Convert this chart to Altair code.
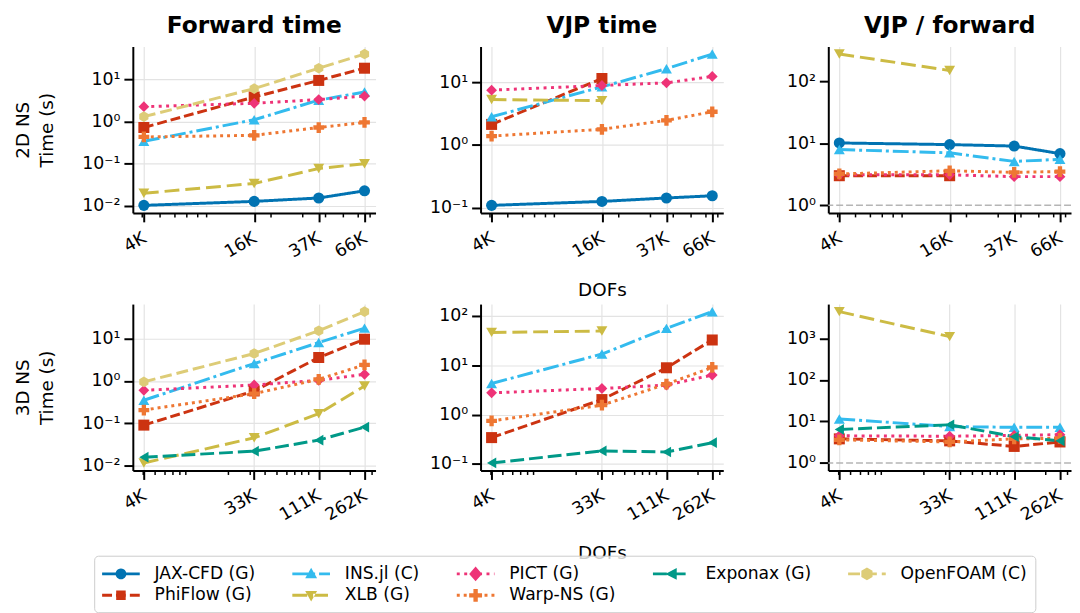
import math
import altair as alt
import numpy as np
import pandas as pd

# ---------------- data ----------------
SERIES = ["JAX-CFD (G)", "PhiFlow (G)", "INS.jl (C)", "XLB (G)", "PICT (G)",
          "Warp-NS (G)", "Exponax (G)", "OpenFOAM (C)"]
COLORS = ["#0173B2", "#CC3311", "#33BBEE", "#CCBB44", "#EE3377",
          "#EE7733", "#009988", "#DDCC77"]
# legend is filled column-major in 2 rows -> row-major order for 5 columns
LEGEND_ORDER = ["JAX-CFD (G)", "INS.jl (C)", "PICT (G)", "Exponax (G)", "OpenFOAM (C)",
                "PhiFlow (G)", "XLB (G)", "Warp-NS (G)"]

COL_TITLES = ["Forward time", "VJP time", "VJP / forward"]
ROW_TITLES = [["2D NS", "Time (s)"], ["3D NS", "Time (s)"]]
X_TITLE = "DOFs"
REF_LEVEL = [1.0]

DOFS_2D = [4096, 16384, 36864, 65536]
DOFS_3D = [4096, 32768, 110592, 262144]

FWD_2D = {
    "JAX-CFD (G)": [0.0103, 0.0128, 0.0154, 0.0228],
    "PhiFlow (G)": [0.72, 3.8, 9.4, 18.3],
    "INS.jl (C)": [0.34, 1.1, 3.2, 5.0],
    "XLB (G)": [0.020, 0.034, 0.077, 0.10],
    "PICT (G)": [2.24, 2.7, 3.3, 4.0],
    "Warp-NS (G)": [0.43, 0.47, 0.72, 0.95],
    "OpenFOAM (C)": [1.3, 6.0, 18.3, 39.6],
}
VJP_2D = {
    "JAX-CFD (G)": [0.109, 0.126, 0.143, 0.155],
    "PhiFlow (G)": [2.13, 11.5, None, None],
    "INS.jl (C)": [2.82, 8.45, 16.5, 28.2],
    "XLB (G)": [5.3, 5.1, None, None],
    "PICT (G)": [7.5, 8.9, 9.8, 12.4],
    "Warp-NS (G)": [1.39, 1.78, 2.47, 3.39],
}
RATIO_2D = {
    "JAX-CFD (G)": [10.1, 9.5, 9.0, 6.8],
    "PhiFlow (G)": [3.0, 3.0, None, None],
    "INS.jl (C)": [7.9, 7.0, 5.1, 5.5],
    "XLB (G)": [272, 148, None, None],
    "PICT (G)": [3.1, 3.1, 2.9, 2.9],
    "Warp-NS (G)": [3.2, 3.6, 3.4, 3.5],
}
FWD_3D = {
    "PhiFlow (G)": [0.091, 0.58, 3.56, 9.6],
    "INS.jl (C)": [0.35, 2.56, 8.0, 17.5],
    "XLB (G)": [0.0117, 0.0457, 0.169, 0.76],
    "PICT (G)": [0.60, 0.80, 1.03, 1.43],
    "Warp-NS (G)": [0.206, 0.50, 1.09, 2.39],
    "Exponax (G)": [0.016, 0.0221, 0.0403, 0.0817],
    "OpenFOAM (C)": [0.95, 4.42, 15.2, 42.8],
}
VJP_3D = {
    "PhiFlow (G)": [0.342, 2.01, 8.85, 32.3],
    "INS.jl (C)": [4.25, 16.8, 55.5, 121],
    "XLB (G)": [46, 49, None, None],
    "PICT (G)": [2.75, 3.37, 3.95, 6.3],
    "Warp-NS (G)": [0.745, 1.55, 4.14, 8.98],
    "Exponax (G)": [0.105, 0.184, 0.175, 0.27],
}
RATIO_3D = {
    "PhiFlow (G)": [3.8, 3.4, 2.5, 3.2],
    "INS.jl (C)": [11.5, 7.5, 7.2, 7.2],
    "XLB (G)": [4400, 1100, None, None],
    "PICT (G)": [4.5, 4.4, 4.6, 4.8],
    "Warp-NS (G)": [3.6, 3.2, 3.8, 3.9],
    "Exponax (G)": [6.4, 8.3, 4.3, 3.4],
}

# ---------------- styles ----------------
DASHES = [[1, 0], [10, 4], [16, 4, 3, 4], [15, 6], [3, 4.5], [3, 4], [14, 5], [12, 5]]
HEX = "M0,-1L0.866,-0.5L0.866,0.5L0,1L-0.866,0.5L-0.866,-0.5Z"
SHAPES = ["circle", "square", "triangle-up", "triangle-down", "diamond", "cross",
          "triangle-left", HEX]
MARKER_SIZES = [125, 115, 140, 140, 185, 170, 140, 160]
FONT = "DejaVu Sans"
PANEL_W, PANEL_H = 245, 168


def long_df(dofs, table):
    rows = []
    for s, vals in table.items():
        for d, v in zip(dofs, vals):
            if v is not None:
                rows.append({"series": s, "dofs": d, "value": v})
    return pd.DataFrame(rows)


def log_domain(values, include=()):
    arr = np.log10(np.array(list(values) + list(include), dtype=float))
    lo, hi = arr.min(), arr.max()
    m = 0.05 * (hi - lo)
    return [float(10 ** (lo - m)), float(10 ** (hi + m))]


def minor_ticks(dom):
    out = []
    for e in range(2, 7):
        for k in range(2, 10):
            v = k * 10 ** e
            if dom[0] <= v <= dom[1]:
                out.append(v)
    return out


SUP = ("'10' + replace(replace(replace(replace(replace(replace(''+round(log(datum.value)/LN10),"
       "'-','\u207b'),'0','\u2070'),'1','\u00b9'),'2','\u00b2'),'3','\u00b3'),'4','\u2074')")

color_scale = alt.Scale(domain=SERIES, range=COLORS)
dash_scale = alt.Scale(domain=SERIES, range=DASHES)
shape_scale = alt.Scale(domain=SERIES, range=SHAPES)
size_scale = alt.Scale(domain=SERIES, range=MARKER_SIZES)


# ---------- legend symbols: line segment (with dash pattern) + marker ----------
S = 10.0  # px per path unit for symbolSize 400


def _poly(pts):
    return "M" + "L".join(f"{px / S:.3f},{py / S:.3f}" for px, py in pts) + "Z"


def legend_path(dash, marker):
    x0, x1, hw = -10.0, 28.0, 1.5
    parts = []
    if sum(dash[1::2]) == 0:
        parts.append(_poly([(x0, -hw), (x1, -hw), (x1, hw), (x0, hw)]))
    else:
        xx, i = x0, 0
        while xx < x1:
            on, off = dash[i % len(dash)], dash[(i + 1) % len(dash)]
            e = min(xx + on, x1)
            parts.append(_poly([(xx, -hw), (e, -hw), (e, hw), (xx, hw)]))
            xx = e + off
            i += 2
    cx = 9.0
    if marker == "circle":
        r = 5.5
        pts = [(cx + r * math.cos(a * math.pi / 12), r * math.sin(a * math.pi / 12)) for a in range(24)]
    elif marker == "square":
        h = 4.8
        pts = [(cx - h, -h), (cx + h, -h), (cx + h, h), (cx - h, h)]
    elif marker == "triangle-up":
        pts = [(cx, -6.2), (cx + 6, 4.5), (cx - 6, 4.5)]
    elif marker == "triangle-down":
        pts = [(cx, 6.2), (cx + 6, -4.5), (cx - 6, -4.5)]
    elif marker == "diamond":
        pts = [(cx, -7.5), (cx + 6.5, 0), (cx, 7.5), (cx - 6.5, 0)]
    elif marker == "cross":
        a, t = 6.5, 2.2
        pts = [(cx - t, -a), (cx + t, -a), (cx + t, -t), (cx + a, -t), (cx + a, t), (cx + t, t),
               (cx + t, a), (cx - t, a), (cx - t, t), (cx - a, t), (cx - a, -t), (cx - t, -t)]
    elif marker == "triangle-left":
        pts = [(cx - 6.5, 0), (cx + 5, -6), (cx + 5, 6)]
    else:  # hexagon
        r = 6.5
        pts = [(cx + r * math.sin(k * math.pi / 3), -r * math.cos(k * math.pi / 3)) for k in range(6)]
    parts.append(_poly(pts))
    return "".join(parts)


LEG_PATHS = {s: legend_path(DASHES[i], SHAPES[i] if i < 7 else "hex") for i, s in enumerate(SERIES)}
leg_colors = [COLORS[SERIES.index(s)] for s in LEGEND_ORDER]
leg_shapes = [LEG_PATHS[s] for s in LEGEND_ORDER]

# legend is attached to the bottom-middle panel; offsets relative to that panel
legend_def = alt.Legend(
    title=None, orient="none", legendX=-390, legendY=254, columns=5, direction="horizontal",
    values=LEGEND_ORDER,
    symbolSize=400, symbolStrokeWidth=0, symbolOpacity=1,
    labelFont=FONT, labelFontSize=17.3, labelColor="black", labelOffset=33, labelLimit=400,
    columnPadding=37, rowPadding=3, padding=8,
    strokeColor="#cccccc", fillColor="rgba(255,255,255,0.8)", cornerRadius=4,
)


def legend_layer():
    return alt.Chart(pd.DataFrame({"series": LEGEND_ORDER})).mark_point(
        filled=True, opacity=0
    ).encode(
        color=alt.Color("series:N", scale=alt.Scale(domain=LEGEND_ORDER, range=leg_colors),
                        legend=legend_def),
        shape=alt.Shape("series:N", scale=alt.Scale(domain=LEGEND_ORDER, range=leg_shapes),
                        legend=legend_def),
    )


def panel(dofs, table, col, ytitle, show_title, with_legend=False):
    df = long_df(dofs, table)
    ref = col == 2
    xdom = log_domain(dofs)
    ydom = log_domain(df["value"].tolist(), REF_LEVEL if ref else [])
    lo, hi = np.log10(ydom)
    yvals = [float(10.0 ** k) for k in range(math.ceil(lo), math.floor(hi) + 1)]
    test = f"indexof({list(dofs)}, datum.value) >= 0"
    xaxis = alt.Axis(
        values=list(dofs) + minor_ticks(xdom),
        labelExpr=f"{test} ? round(datum.value / 1000) + 'K' : ''",
        labelAngle=-30, labelAlign="right", labelBaseline="top", labelPadding=7,
        labelOffset=-4, labelOverlap=False, labelFlush=False,
        tickSize={"condition": {"test": test, "value": 9}, "value": 4},
        tickWidth={"condition": {"test": test, "value": 2}, "value": 1.5},
        gridOpacity={"condition": {"test": test, "value": 1}, "value": 0},
        title=X_TITLE if col == 1 else None, titlePadding=20,
    )
    yaxis = alt.Axis(
        values=yvals, labelExpr=SUP, tickSize=9, labelPadding=4,
        labelOverlap=False, labelFlush=False,
        title=ytitle if col == 0 else None, titlePadding=26, titleLineHeight=24,
    )
    xscale = alt.Scale(type="log", domain=xdom, nice=False)
    yscale = alt.Scale(type="log", domain=ydom, nice=False)
    x = alt.X("dofs:Q", scale=xscale, axis=xaxis)
    y = alt.Y("value:Q", scale=yscale, axis=yaxis)
    base = alt.Chart(df)
    lines = base.mark_line(strokeWidth=3, strokeJoin="round").encode(
        x=x, y=y,
        color=alt.Color("series:N", scale=color_scale, legend=None),
        strokeDash=alt.StrokeDash("series:N", scale=dash_scale, legend=None),
    )
    pts = base.mark_point(filled=True, opacity=1).encode(
        x=x, y=y,
        color=alt.Color("series:N", scale=color_scale, legend=None),
        shape=alt.Shape("series:N", scale=shape_scale, legend=None),
        size=alt.Size("series:N", scale=size_scale, legend=None),
    )
    layers = []
    if ref:
        layers.append(
            alt.Chart(pd.DataFrame({"ref": REF_LEVEL})).mark_rule(
                color="#b5b5b5", strokeWidth=1.5, strokeDash=[7, 3]
            ).encode(y=alt.YDatum(REF_LEVEL[0], scale=yscale))
        )
    layers += [lines, pts]
    if with_legend:
        layers.append(legend_layer())
    ch = alt.layer(*layers).properties(width=PANEL_W, height=PANEL_H)
    if with_legend:
        ch = ch.resolve_scale(color="independent", shape="independent")
    if show_title:
        ch = ch.properties(title=alt.TitleParams(
            COL_TITLES[col], fontSize=23.5, fontWeight="bold", font=FONT,
            color="black", offset=9))
    return ch


rows = [
    (DOFS_2D, [FWD_2D, VJP_2D, RATIO_2D], ROW_TITLES[0], True),
    (DOFS_3D, [FWD_3D, VJP_3D, RATIO_3D], ROW_TITLES[1], False),
]
panels = []
for r, (dofs, tables, ytitle, show_title) in enumerate(rows):
    for c, t in enumerate(tables):
        panels.append(panel(dofs, t, c, ytitle, show_title, with_legend=(r == 1 and c == 1)))

chart = alt.concat(
    *panels, columns=3, spacing={"row": 92, "column": 106}, bounds="flush"
).resolve_scale(
    color="independent", shape="independent", strokeDash="independent", size="independent"
).properties(
    padding={"left": 5, "top": 3, "right": 0, "bottom": 0}
).configure_view(stroke=None).configure_axis(
    domainColor="black", domainWidth=2, tickColor="black", tickWidth=2,
    labelColor="black", labelFont=FONT, labelFontSize=17.5,
    titleColor="black", titleFont=FONT, titleFontSize=18.5, titleFontWeight="normal",
    gridColor="#e3e3e3", gridWidth=1.2,
)

chart.save("out.html", embed_options={"renderer": "svg", "actions": False})
